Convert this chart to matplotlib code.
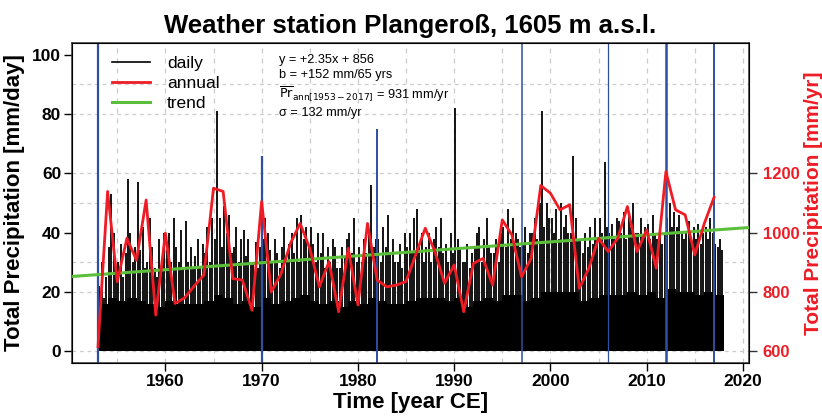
import numpy as np
import matplotlib.pyplot as plt

plt.rcParams['font.family'] = ['Liberation Sans', 'DejaVu Sans']

# annual totals [mm/yr], 1953-2017
years = np.arange(1953, 2018)
annual = [615, 1139, 834, 981, 907, 1110, 722, 998, 761, 780,
          820, 857, 1150, 1139, 845, 840, 738, 1105, 800, 860,
          964, 1031, 947, 817, 902, 733, 947, 756, 1031, 840,
          817, 823, 835, 925, 1015, 936, 829, 891, 733, 896,
          913, 823, 1043, 992, 851, 913, 1159, 1133, 1077, 1094,
          812, 880, 981, 936, 981, 1088, 936, 1009, 880, 1206,
          1077, 1060, 925, 1032, 1119]

# daily precipitation [mm/day]: solid level and visible spikes per year
daily_base = [16, 18, 17, 18, 17, 16, 15, 17, 16, 16,
              16, 17, 19, 18, 16, 17, 15, 18, 16, 17,
              18, 19, 17, 16, 17, 15, 17, 16, 18, 17,
              16, 16, 17, 18, 18, 18, 17, 18, 15, 17,
              18, 17, 19, 19, 17, 18, 20, 20, 20, 20,
              17, 18, 19, 19, 19, 20, 19, 20, 18, 21,
              20, 20, 19, 20, 19]
daily_peaks = [
    [22, 30, 18, 25], [35, 53, 40, 28], [30, 36, 25, 33], [58, 40, 30, 35],
    [57, 34, 42, 28], [30, 45, 35, 28], [25, 38, 30, 40], [34, 40, 30, 45],
    [35, 30, 41, 28], [44, 30, 35, 28], [32, 38, 28, 36], [33, 42, 30, 45],
    [38, 81, 45, 35], [49, 40, 46, 33], [35, 42, 30, 38], [41, 32, 38, 30],
    [30, 37, 28, 35], [38, 45, 40, 34], [30, 38, 33, 28], [35, 42, 30, 36],
    [40, 33, 45, 30], [46, 38, 42, 35], [42, 36, 30, 40], [33, 40, 28, 35],
    [30, 38, 35, 28], [28, 35, 32, 38], [40, 33, 45, 30], [35, 30, 38, 33],
    [40, 56, 35, 38], [38, 30, 42, 35], [46, 33, 38, 30], [30, 36, 28, 40],
    [35, 40, 33, 45], [48, 36, 40, 30], [35, 40, 30, 38], [42, 35, 45, 33],
    [36, 30, 40, 33], [82, 38, 35, 30], [30, 36, 28, 33], [35, 40, 42, 30],
    [38, 45, 35, 33], [33, 38, 30, 40], [42, 35, 48, 38], [45, 40, 38, 35],
    [36, 42, 33, 40], [40, 45, 38, 50], [81, 42, 50, 45], [45, 40, 48, 38],
    [50, 42, 46, 40], [40, 66, 45, 38], [38, 33, 40, 35], [42, 36, 45, 38],
    [45, 40, 64, 42], [40, 43, 38, 45], [44, 40, 47, 38], [46, 42, 50, 40],
    [40, 45, 38, 42], [43, 38, 46, 40], [38, 42, 36, 40], [45, 50, 42, 47],
    [42, 46, 40, 38], [40, 44, 38, 42], [38, 43, 36, 40], [42, 38, 45, 40],
    [36, 35, 38, 34]]

# vertical markers (year, top in mm/day, linewidth)
mark_years = [1953, 1970, 1982, 1997, 2006, 2012, 2017]
mark_tops = [104, 66, 75, 104, 104, 104, 104]
mark_lw = [1.6, 1.6, 1.4, 1.1, 0.9, 1.8, 1.4]

slope, intercept = 2.35, 856

fig = plt.figure(figsize=(8.22, 4.18), dpi=100)
ax = fig.add_axes([72.3/822, 1-363/418, 676.4/822, 320/418])
ax.set_xlim(1950.33, 2020.6)
ax.set_ylim(-4, 104)

for g in [0, 20, 30, 50, 60, 80, 90]:
    ax.axhline(g, color='#cccccc', lw=0.9, ls=(0, (3, 3)), zorder=0)
for g in range(1955, 2021, 5):
    ax.axvline(g, color='#cccccc', lw=0.9, ls=(0, (4, 4)), zorder=0)

# daily bars
ax.bar(years + 0.5, daily_base, width=1.0, color='black', zorder=1)
px, ph = [], []
for y, pk in zip(years, daily_peaks):
    for i, h in enumerate(pk):
        px.append(y + (i + 0.5) / len(pk))
        ph.append(h)
ax.vlines(px, 0, ph, color='black', lw=1.3, zorder=1)

for yr, top, lw in zip(mark_years, mark_tops, mark_lw):
    ax.vlines(yr, -4, top, color='#2f4fa0', lw=lw, zorder=2)

ax.set_yticks([0, 20, 40, 60, 80, 100])
ax.set_xticks(range(1960, 2021, 10))
ax.tick_params(labelsize=12.5, length=6, width=1, pad=2)
for t in ax.get_xticklabels() + ax.get_yticklabels():
    t.set_fontweight('bold')
ax.set_xlabel('Time [year CE]', fontsize=16, fontweight='bold', labelpad=2)
ax.set_ylabel('Total Precipitation [mm/day]', fontsize=16, fontweight='bold', labelpad=5)
ax.set_title('Weather station Plangeroß, 1605 m a.s.l.', fontsize=18.5, fontweight='bold', pad=7)
for s in ax.spines.values():
    s.set_color('#333333')
    s.set_linewidth(1.1)

ax2 = ax.twinx()
ax2.set_ylim(560, 1640)
xx = np.array(ax.get_xlim())
ax2.plot(xx, intercept + slope * (xx - 1952), color='#5cbf3c', lw=2.2, zorder=3)
ax2.plot(years, annual, color='#ee1c25', lw=2.0, zorder=4)
ax2.set_yticks([600, 800, 1000, 1200])
ax2.tick_params(labelsize=12, length=6, width=1, pad=4, colors='#ee1c25')
ax2.tick_params(axis='y', color='#333333')
for t in ax2.get_yticklabels():
    t.set_fontweight('bold')
ax2.set_ylabel('Total Precipitation [mm/yr]', fontsize=15, fontweight='bold',
               color='#ee1c25', labelpad=3)

h1, = ax2.plot([], [], color='black', lw=1.2)
h2, = ax2.plot([], [], color='#ee1c25', lw=2.0)
h3, = ax2.plot([], [], color='#5cbf3c', lw=2.2)
ax2.legend([h1, h2, h3], ['daily', 'annual', 'trend'], loc='upper left',
           bbox_to_anchor=(0.035, 1.01), frameon=False, fontsize=12.5,
           handlelength=2.2, labelspacing=0.3, handletextpad=1.0)

ax2.text(0.305, 0.965,
         'y = +2.35x + 856\nb = +152 mm/65 yrs\n'
         r'$\overline{\mathrm{Pr}}_{\mathrm{ann[1953-2017]}}$ = 931 mm/yr'
         '\nσ = 132 mm/yr',
         transform=ax.transAxes, fontsize=9.2, va='top', linespacing=1.3)

fig.savefig('out.png', dpi=100)
